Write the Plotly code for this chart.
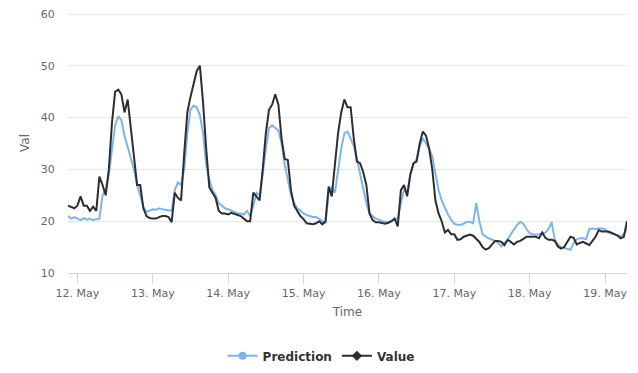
import plotly.graph_objects as go
import pandas as pd

# hourly samples, starting 11 May 21:00
start_time = "2019-05-11 21:00"

prediction = [
    21.0, 20.5, 20.8,
    # 12 May
    20.5, 20.2, 20.6, 20.3, 20.5, 20.2, 20.4, 20.5, 25.0, 26.0, 29.0, 33.5,
    38.5, 40.3, 39.5, 36.5, 34.5, 32.5, 30.0, 27.0, 25.0, 22.8, 21.8, 22.0,
    # 13 May
    22.3, 22.2, 22.5, 22.3, 22.2, 22.2, 22.0, 26.0, 27.5, 27.0, 30.0, 37.0,
    41.5, 42.3, 42.0, 40.5, 37.0, 31.0, 28.0, 26.0, 25.0, 23.5, 23.0, 22.5,
    # 14 May
    22.3, 22.0, 21.8, 21.5, 21.5, 21.3, 22.0, 21.0, 23.0, 25.5, 25.0, 29.0,
    34.0, 38.0, 38.5, 38.0, 37.5, 35.0, 31.0, 28.0, 25.0, 23.5, 22.5, 22.0,
    # 15 May
    21.5, 21.2, 21.0, 20.8, 20.8, 20.5, 20.0, 19.7, 25.5, 26.5, 25.5, 30.0,
    34.0, 37.0, 37.3, 36.0, 34.5, 32.0, 29.0, 26.0, 23.5, 21.5, 21.0, 20.5,
    # 16 May
    20.3, 20.0, 19.8, 19.8, 20.0, 20.2, 20.5, 23.5, 26.0, 25.5, 29.0, 31.0,
    32.0, 34.5, 36.0, 35.0, 34.0, 32.5, 29.0, 26.0, 24.0, 22.5, 21.3, 20.3,
    # 17 May
    19.5, 19.3, 19.3, 19.5, 19.9, 19.9, 19.6, 23.5, 20.0, 17.5, 17.0, 16.7,
    16.5, 16.2, 15.8, 15.1, 15.8, 16.4, 17.5, 18.5, 19.3, 19.9, 19.5, 18.5,
    # 18 May
    17.7, 17.5, 17.4, 17.5, 17.6, 17.8, 18.5, 19.8, 16.5, 15.5, 15.0, 14.8,
    14.6, 14.5, 15.8, 16.5, 16.7, 16.7, 16.5, 18.5, 18.6, 18.5, 18.6, 18.6,
    # 19 May
    18.4, 17.8, 17.6, 17.4, 17.2, 17.1, 17.5, 18.5,
]

value = [
    23.0, 22.7, 22.5,
    # 12 May
    23.0, 24.8, 23.0, 23.0, 22.0, 22.8, 22.0, 28.6, 27.0, 25.0, 30.0, 39.0,
    45.0, 45.4, 44.5, 41.0, 43.5, 38.0, 32.0, 27.0, 27.0, 22.5, 21.0, 20.6,
    # 13 May
    20.5, 20.5, 20.8, 21.0, 21.0, 20.8, 19.8, 25.5, 24.5, 24.0, 33.0, 41.0,
    44.0, 46.5, 49.0, 50.0, 43.0, 34.0, 26.5, 25.5, 24.5, 22.0, 21.5, 21.5,
    # 14 May
    21.3, 21.6, 21.4, 21.2, 21.0, 20.5, 20.0, 20.0, 25.5, 24.8, 24.0, 30.0,
    37.0, 41.5, 42.5, 44.5, 42.5, 36.0, 32.0, 31.8, 26.0, 23.0, 22.0, 21.0,
    # 15 May
    20.4, 19.6, 19.5, 19.4, 19.6, 20.0, 19.4, 20.0, 26.7, 24.8, 31.0, 37.0,
    41.0, 43.5, 42.0, 42.0, 36.0, 31.5, 31.2, 29.5, 27.0, 21.5, 20.2, 19.8,
    # 16 May
    19.8, 19.6, 19.5, 19.7, 20.0, 20.5, 19.0, 26.0, 27.0, 24.8, 29.0, 31.2,
    31.5, 35.0, 37.3, 36.5, 34.0, 30.0, 24.0, 21.5, 20.0, 17.8, 18.3, 17.5,
    # 17 May
    17.5, 16.4, 16.5, 17.0, 17.2, 17.4, 17.2, 16.5, 16.0, 15.0, 14.5, 14.8,
    15.4, 16.2, 16.2, 16.0, 15.4, 16.4, 16.0, 15.5, 16.0, 16.2, 16.6, 17.0,
    # 18 May
    17.0, 17.0, 17.0, 16.7, 17.8, 16.8, 16.4, 16.4, 16.2, 15.1, 14.7, 15.0,
    16.0, 17.0, 16.8, 15.5, 15.8, 16.0, 15.7, 15.4, 16.2, 17.0, 18.3, 18.0,
    # 19 May
    18.0, 18.0, 17.8, 17.5, 17.2, 16.7, 17.0, 20.0,
]

y_ticks = [10, 20, 30, 40, 50, 60]

times = pd.date_range(start_time, periods=len(value), freq="h")

series_names = ["Prediction", "Value"]
colors = ["#7cb5ec", "#2e2e30"]
symbols = ["circle", "diamond"]

FONT = "'DejaVu Sans', Verdana, sans-serif"

fig = go.Figure()
for name, ys, c in zip(series_names, [prediction, value], colors):
    fig.add_trace(go.Scatter(x=times, y=ys, mode="lines", name=name,
                             line=dict(color=c, width=2), showlegend=False))
for name, c, s in zip(series_names, colors, symbols):
    fig.add_trace(go.Scatter(x=[None], y=[None], mode="lines+markers", name=name,
                             line=dict(color=c, width=2),
                             marker=dict(color=c, size=8, symbol=s)))

# page body has an 8px margin, so the figure is 8px smaller than the window
fig.update_layout(
    width=630, height=365,
    margin=dict(l=60, r=11, t=5, b=100, autoexpand=False),
    paper_bgcolor="white", plot_bgcolor="white",
    font=dict(family=FONT, color="#666666", size=11),
    legend=dict(orientation="h", xref="container", yref="container",
                x=0.497, xanchor="center", y=0.047, yanchor="middle",
                font=dict(size=12, color="#333333", family=FONT, weight="bold"),
                itemwidth=30, traceorder="normal"),
    showlegend=True,
)
fig.update_xaxes(
    type="date",
    range=[times[0], times[-1]],
    dtick=86400000, tick0="2019-05-12",
    tickformat="%-d. %b",
    showgrid=False, showline=True, linecolor="#ccd6eb", linewidth=1,
    ticks="outside", ticklen=10, tickcolor="#ccd6eb",
    tickfont=dict(size=11, color="#666666", family=FONT),
    title=dict(text="Time", font=dict(size=12, color="#666666", family=FONT),
               standoff=8),
    zeroline=False, automargin=False,
)
fig.update_yaxes(
    range=[10, 60.2], tickmode="array", tickvals=y_ticks,
    showgrid=True, gridcolor="#e6e6e6", gridwidth=1,
    showline=False, zeroline=False,
    ticks="outside", ticklen=10, tickcolor="rgba(0,0,0,0)",
    ticklabeloverflow="allow",
    tickfont=dict(size=11, color="#666666", family=FONT),
    title=dict(text="Val", font=dict(size=12, color="#666666", family=FONT),
               standoff=8),
    automargin=False,
)

fig.write_html("out.html")
